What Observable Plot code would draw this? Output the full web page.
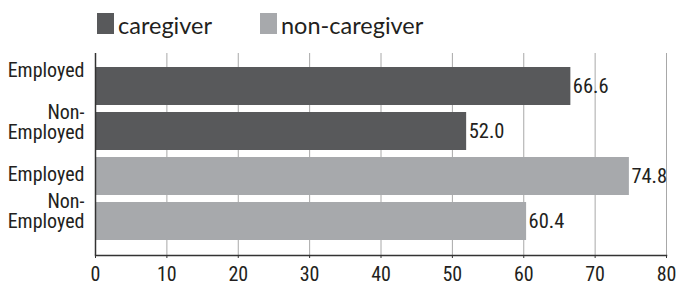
<!DOCTYPE html>
<html>
<head>
<meta charset="utf-8">
<script src="https://cdn.jsdelivr.net/npm/d3@7"></script>
<script src="https://cdn.jsdelivr.net/npm/@observablehq/plot@0.6"></script>
<style>
  body { margin: 0; background: #fff; }
  #wrap { width: 676px; height: 282px; position: relative; overflow: hidden; }
  #legend { position: relative; width: 676px; height: 42px; font-family: Lato, "Open Sans", sans-serif; color: #231f20; }
  .sw { position: absolute; top: 13px; width: 17px; height: 21px; }
  .lab { position: absolute; top: 15px; font-size: 23.5px; line-height: 21px; white-space: nowrap; }
  svg { display: block; }
</style>
</head>
<body>
<div id="wrap">
  <div id="legend"></div>
  <div id="chart"></div>
</div>
<script>
// Data
const groups = ["caregiver", "non-caregiver"];
const groupColors = ["#58595b", "#a7a9ac"];
const barKeys = ["cg-emp", "cg-non", "nc-emp", "nc-non"];
const barGroups = ["caregiver", "caregiver", "non-caregiver", "non-caregiver"];
const barLabels = ["Employed", "Non-\nEmployed", "Employed", "Non-\nEmployed"];
const barValues = [66.6, 52.0, 74.8, 60.4];
const xTicks = [0, 10, 20, 30, 40, 50, 60, 70, 80];

const data = barKeys.map((k, i) => ({key: k, group: barGroups[i], label: barLabels[i], value: barValues[i]}));
const labelOf = new Map(barKeys.map((k, i) => [k, barLabels[i]]));

// Legend
const legend = document.getElementById("legend");
const legendLeft = [97, 260];
groups.forEach((g, i) => {
  const sw = document.createElement("div");
  sw.className = "sw";
  sw.style.left = legendLeft[i] + "px";
  sw.style.background = groupColors[i];
  legend.appendChild(sw);
  const t = document.createElement("div");
  t.className = "lab";
  t.style.left = (legendLeft[i] + 21) + "px";
  t.textContent = g;
  legend.appendChild(t);
});

const condensed = "'Roboto Condensed', 'Open Sans', sans-serif";
const ink = "#231f20";
// per-label vertical nudges as in the original artwork
const labelShift = [-16, -9, -2, -10];

const chart = Plot.plot({
  width: 676,
  height: 240,
  marginTop: 11,
  marginBottom: 27,
  marginLeft: 95,
  marginRight: 10,
  style: {fontFamily: condensed, color: ink, background: "#fff", overflow: "visible"},
  x: {domain: [0, 80]},
  y: {domain: barKeys, paddingInner: 0.15, paddingOuter: 0.28},
  color: {domain: groups, range: groupColors},
  marks: [
    Plot.gridX(xTicks, {stroke: "#a8a8a8", strokeOpacity: 1, strokeWidth: 1}),
    Plot.barX(data, {x: "value", y: "key", fill: "group"}),
    Plot.text(data, {x: "value", y: "key", text: d => d3.format(".1f")(d.value), textAnchor: "start", dx: 2, fontSize: 20.5, fill: ink}),
    Plot.ruleX([0], {stroke: "#333", strokeWidth: 1.5}),
    Plot.frame({anchor: "bottom", stroke: "#333", strokeWidth: 1.5}),
    Plot.axisX(xTicks, {tickSize: 3, tickPadding: 8, fontSize: 20, stroke: "#333", fill: ink, label: null}),
    ...barKeys.map((k, i) => Plot.axisY([k], {
      tickSize: 0, tickPadding: 11, fontSize: 20, lineHeight: 1, fill: ink,
      tickFormat: d => labelOf.get(d), label: null, dy: labelShift[i]
    }))
  ]
});
document.getElementById("chart").appendChild(chart);
</script>
</body>
</html>
